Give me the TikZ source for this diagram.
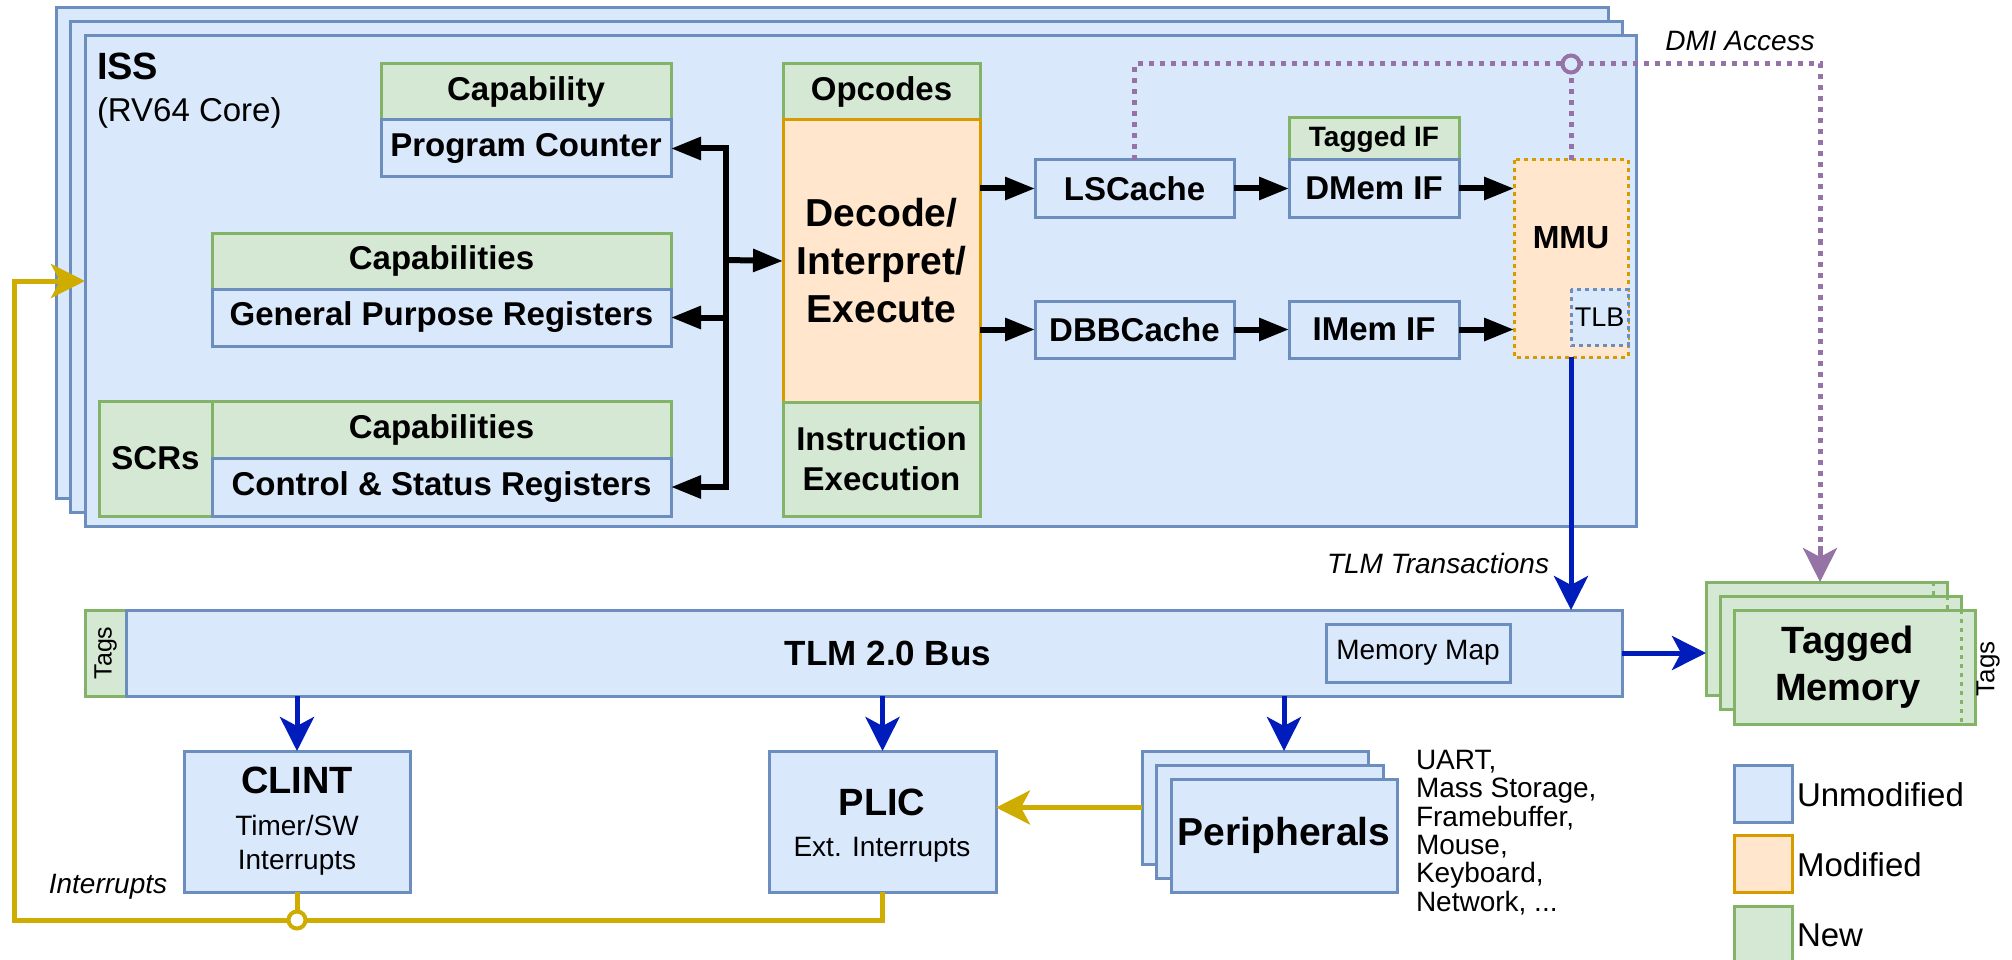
\documentclass[tikz,border=0pt]{standalone}
\usepackage{fontspec}
\setmainfont{Liberation Sans}
\usetikzlibrary{arrows.meta}
\definecolor{bfill}{HTML}{DAE8FC}
\definecolor{bline}{HTML}{6C8EBF}
\definecolor{gfill}{HTML}{D5E8D4}
\definecolor{gline}{HTML}{82B366}
\definecolor{ofill}{HTML}{FFE6CC}
\definecolor{oline}{HTML}{D79B00}
\definecolor{purp}{HTML}{9673A6}
\definecolor{yel}{HTML}{CFAD00}
\definecolor{dblue}{HTML}{001DBC}
\newcommand\bx[7]{\node[#6, minimum width={#4-#2}, minimum height={#5-#3}] (#1) at ({(#2+#4)/2},{(#3+#5)/2}) {#7};}
\newcommand\lab{\fontsize{33}{40}\selectfont\bfseries}
\newcommand\reg[1]{\fontsize{#1}{#1}\selectfont}
\begin{document}
\begin{tikzpicture}[x=1pt,y=-1pt,
  base/.style={line width=3pt, inner sep=0pt, outer sep=0pt, font=\lab, align=center},
  bbox/.style={base, draw=bline, fill=bfill},
  gbox/.style={base, draw=gline, fill=gfill},
  obox/.style={base, draw=oline, fill=ofill},
  txt/.style={inner sep=0pt, outer sep=0pt},
  blk/.style={line width=6pt, black},
  blkarr/.style={blk, -{Triangle[length=30pt,width=22pt]}},
  classic/.style={-{Stealth[length=34pt,width=34pt,inset=9pt]}},
  blu/.style={line width=5pt, dblue},
  ylw/.style={line width=5pt, yel},
  prp/.style={line width=5pt, purp, dash pattern=on 5pt off 6pt},
  ring/.style={circle, draw, line width=4pt, minimum size=17pt, inner sep=0pt},
  sep/.style={gline, line width=3pt, dash pattern=on 4pt off 5pt},
]
\useasboundingbox (0,0) rectangle (2012,960);

% ISS frames
\bx{iss3}{56}{8}{1608}{498}{bbox}{}
\bx{iss2}{70}{22}{1622}{512}{bbox}{}
\bx{iss1}{85}{36}{1636}{526}{bbox}{}
\node[txt, anchor=base west, font=\fontsize{38}{44}\selectfont\bfseries] (isslbl) at (97,80) {ISS};
\node[txt, anchor=base west, font=\reg{33}] (isssub) at (97,122) {(RV64 Core)};

% registers
\bx{cap}{381}{64}{671}{120}{gbox}{Capability}
\bx{pc}{381}{120}{671}{177}{bbox}{Program Counter}
\bx{capg}{212}{233}{671}{289}{gbox}{Capabilities}
\bx{gpr}{212}{289}{671}{346}{bbox}{General Purpose Registers}
\bx{scr}{99}{401}{212}{516}{gbox}{SCRs}
\bx{capc}{212}{401}{671}{458}{gbox}{Capabilities}
\bx{csr}{212}{458}{671}{516}{bbox}{Control \& Status Registers}

% decode column
\bx{opc}{783}{64}{980}{120}{gbox}{Opcodes}
\bx{dec}{783}{120}{980}{402}{obox,font=\fontsize{39}{48}\selectfont\bfseries}{Decode/\\Interpret/\\Execute}
\bx{iex}{783}{402}{980}{516}{gbox}{Instruction\\Execution}

% caches and interfaces
\bx{lsc}{1035}{160}{1234}{217}{bbox}{LSCache}
\bx{dbb}{1035}{301}{1234}{358}{bbox}{DBBCache}
\bx{tif}{1289}{118}{1459}{160}{gbox,font=\fontsize{28}{32}\selectfont\bfseries}{Tagged IF}
\bx{dmem}{1289}{160}{1459}{217}{bbox}{DMem IF}
\bx{imem}{1289}{301}{1459}{358}{bbox}{IMem IF}

% MMU
\bx{mmu}{1514}{160}{1628}{357}{obox, draw=none}{}
\draw[oline, line width=3pt, dash pattern=on 4pt off 4pt] (mmu.north west) rectangle (mmu.south east);
\node[txt, font=\fontsize{32}{38}\selectfont\bfseries] (mmulbl) at (1571,238) {MMU};
\bx{tlb}{1571}{289}{1628}{345}{bbox, draw=none}{}
\draw[bline, line width=3pt, dash pattern=on 4pt off 4pt] (tlb.north west) rectangle (tlb.south east);
\node[txt, font=\reg{27}] (tlblbl) at (tlb.center) {TLB};

% black connectors
\coordinate (bj) at (726,260);
\draw[blk, {Triangle[length=30pt,width=22pt]}-{Triangle[length=30pt,width=22pt]}] (pc.east) -| (bj) |- (csr.east);
\draw[blkarr] (bj |- gpr.east) -- (gpr.east);
\draw[blkarr] (bj) -- (dec.west);
\draw[blkarr] (dec.east |- lsc.west) -- (lsc.west);
\draw[blkarr] (dec.east |- dbb.west) -- (dbb.west);
\draw[blkarr] (lsc.east) -- (dmem.west);
\draw[blkarr] (dbb.east) -- (imem.west);
\draw[blkarr] (dmem.east) -- (dmem.east -| mmu.west);
\draw[blkarr] (imem.east) -- (imem.east -| mmu.west);

% bus
\bx{btags}{85}{610}{126}{696}{gbox}{}
\node[txt, rotate=90, font=\reg{25}] (btagslbl) at (btags.center) {Tags};
\bx{bus}{126}{610}{1622}{696}{bbox}{}
\node[txt, font=\fontsize{35}{40}\selectfont\bfseries] (buslbl) at (888,653) {TLM 2.0 Bus};
\bx{mmap}{1326}{624}{1510}{682}{bbox, font=\reg{28}}{Memory Map}

% CLINT / PLIC
\bx{clint}{184}{751}{410}{892}{bbox}{}
\node[txt, font=\fontsize{38}{44}\selectfont\bfseries] (clintlbl) at (297,780) {CLINT};
\node[txt, font=\reg{28}, align=center] (clintsub) at (297,845) {Timer/SW\\[6pt]Interrupts};
\bx{plic}{769}{751}{996}{892}{bbox}{}
\node[txt, font=\fontsize{38}{44}\selectfont\bfseries] (pliclbl) at (882,802) {PLIC};
\node[txt, font=\reg{28}] (plicsub) at (882,850) {Ext. Interrupts};

% peripherals
\bx{pb}{1142}{751}{1368}{864}{bbox}{}
\bx{pm}{1156}{765}{1383}{878}{bbox}{}
\bx{pf}{1171}{779}{1397}{892}{bbox, font=\fontsize{39}{44}\selectfont\bfseries}{Peripherals}
\node[txt, anchor=north west, align=left, font=\fontsize{28}{28.4}\selectfont] (plist) at (1416,750) {UART,\\Mass Storage,\\Framebuffer,\\Mouse,\\Keyboard,\\Network, ...};

% tagged memory
\bx{tm3}{1706}{582}{1947}{695}{gbox}{}
\draw[sep] ([xshift=-14pt]tm3.north east) -- ([xshift=-14pt]tm3.south east);
\bx{tm2}{1720}{596}{1961}{709}{gbox}{}
\draw[sep] ([xshift=-14pt]tm2.north east) -- ([xshift=-14pt]tm2.south east);
\bx{tm1}{1734}{610}{1975}{724}{gbox}{}
\draw[sep] ([xshift=-14pt]tm1.north east) -- ([xshift=-14pt]tm1.south east);
\node[txt, font=\fontsize{38}{47}\selectfont\bfseries, align=center] (tmlbl) at (1848,667) {Tagged\\Memory};
\node[txt, rotate=90, font=\reg{26}] (tmtags) at (1988,669) {Tags};

% legend
\bx{lu}{1734}{765}{1792}{822}{bbox}{}
\bx{lm}{1734}{835}{1792}{892}{obox}{}
\bx{ln}{1734}{906}{1792}{963}{gbox}{}
\node[txt, anchor=west, font=\reg{33}] (lut) at (1797,795) {Unmodified};
\node[txt, anchor=west, font=\reg{33}] (lmt) at (1797,865) {Modified};
\node[txt, anchor=west, font=\reg{33}] (lnt) at (1797,935) {New};

% blue connectors
\draw[blu, classic] (mmu.south) -- (mmu.south |- bus.north);
\draw[blu, classic] (bus.east) -- (bus.east -| tm3.west);
\draw[blu, classic] (bus.south -| clint.north) -- (clint.north);
\draw[blu, classic] (bus.south -| plic.north) -- (plic.north);
\draw[blu, classic] (bus.south -| pf.north) -- (pb.north -| pf.north);
\node[txt, anchor=east, font=\fontsize{28}{32}\selectfont\itshape] (tlmt) at (1549,563) {TLM Transactions};

% purple DMI
\coordinate (pcorner) at (1820,64);
\draw[prp] (lsc.north) |- (pcorner) -- ([yshift=30pt]pcorner |- tm3.north);
\draw[line width=5pt, purp, classic] ([yshift=36pt]pcorner |- tm3.north) -- (pcorner |- tm3.north);
\draw[prp] (mmu.north) -- (mmu.north |- pcorner);
\node[ring, draw=purp, fill=bfill] (pring) at (mmu.north |- pcorner) {};
\node[txt, font=\fontsize{28}{32}\selectfont\itshape] (dmit) at (1740,41) {DMI Access};

% yellow interrupts
\coordinate (ycorner) at (14,920);
\coordinate (yturn) at (14,281);
\draw[ylw, classic] (plic.south) |- (ycorner) -- (yturn) -- (yturn -| iss1.west);
\draw[ylw] (clint.south) -- (clint.south |- ycorner);
\node[ring, draw=yel, fill=white] (yring) at (clint.south |- ycorner) {};
\draw[ylw, classic] (pb.west) -- (pb.west -| plic.east);
\node[txt, font=\fontsize{28}{32}\selectfont\itshape] (intt) at (108,887) {Interrupts};
\end{tikzpicture}
\end{document}
